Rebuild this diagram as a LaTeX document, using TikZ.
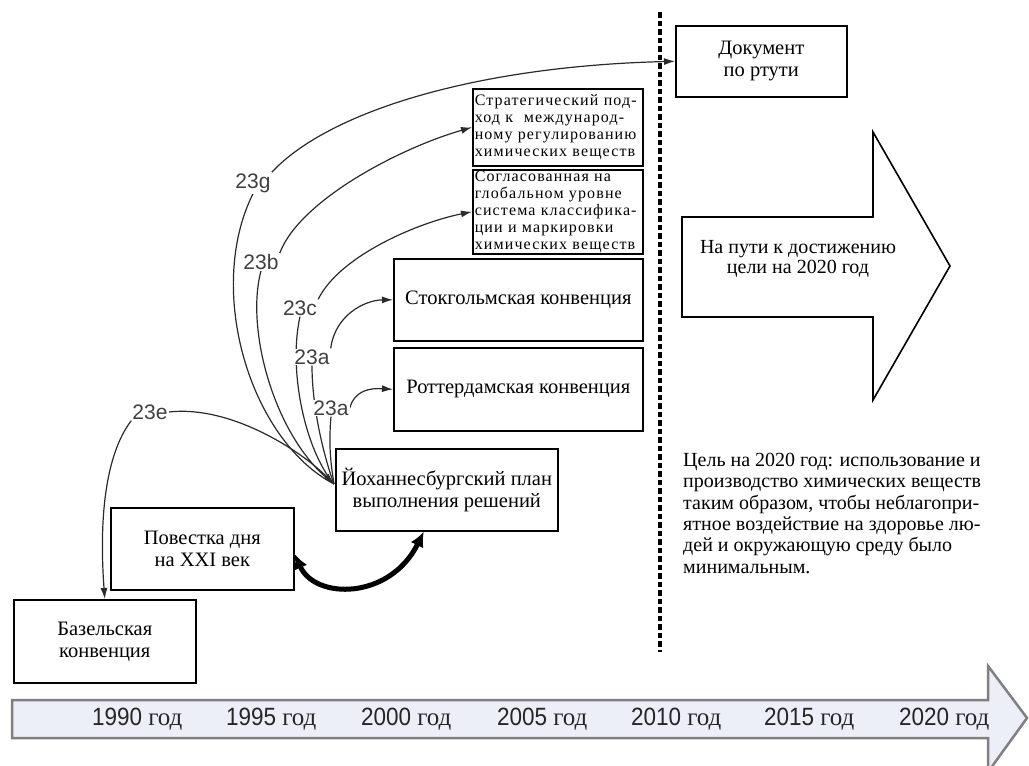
\documentclass[tikz,border=0pt]{standalone}
\usepackage{fontspec}
\setmainfont{Liberation Serif}
\newfontfamily\arialf{Liberation Sans}
\newfontfamily\spacedserif[LetterSpace=7]{Liberation Serif}
\usetikzlibrary{arrows.meta,calc,backgrounds}
\definecolor{tlfill}{HTML}{ECEFF8}
\definecolor{tledge}{HTML}{808080}
\definecolor{curve}{HTML}{2A2A2A}
\definecolor{labgray}{HTML}{404040}
\begin{document}
\begin{tikzpicture}[x=1pt,y=-1pt,
  box/.style={draw=black, line width=1.6pt, fill=white, inner sep=0pt, align=center,
    font=\fontsize{20.5}{22}\selectfont, anchor=north west},
  smallbox/.style={draw=black, line width=1.6pt, fill=white, inner xsep=2pt, inner ysep=0pt,
    align=left, text width=166pt, font=\spacedserif\fontsize{16}{17}\selectfont, anchor=north west},
  lab/.style={font=\arialf\fontsize{21}{21}\selectfont, text=labgray, inner sep=1pt, fill=white},
  conn/.style={draw=curve, line width=1.2pt},
  arr/.style={conn, -{Latex[length=11pt,width=7pt]}},
  year/.style={anchor=west, inner sep=0pt, text=black!85}
]
\useasboundingbox (0,0) rectangle (1029,766);

% timeline arrow
\path[fill=tlfill, draw=tledge, line width=2.5pt, line join=miter]
  (12,700) -- (988,700) -- (988,666) -- (1027,718) -- (988,772) -- (988,738) -- (12,738) -- cycle;
\foreach \x/\y in {92/1990,226/1995,361/2000,497/2005,631/2010,764/2015,899/2020}{
  \node[year] (y\y) at (\x,719) {\scalebox{0.9}[1]{\arialf\fontsize{25}{25}\selectfont \y}\hspace{6pt}{\fontsize{25}{25}\selectfont год}};
}

% dotted divider
\coordinate (dtop) at (660,12);
\coordinate (dbot) at (660,652);
\draw[line width=4pt, dash pattern=on 5.5pt off 3pt] (dtop) -- (dbot);

% boxes
\node[box, minimum width=171pt, minimum height=71pt] (doc) at (675,25) {Документ\\по ртути};
\node[smallbox, minimum height=77pt] (strat) at (472,88)
  {\mbox{Стратегический под-}\\\mbox{ход к\ \ международ-}\\\mbox{ному регулированию}\\\mbox{химических веществ}};
\node[smallbox, minimum height=84pt] (sogl) at (472,169)
  {\mbox{Согласованная на}\\\mbox{глобальном уровне}\\\mbox{система классифика-}\\\mbox{ции и маркировки}\\\mbox{химических веществ}};
\node[box, minimum width=249pt, minimum height=82pt] (stock) at (393,258) {Стокгольмская конвенция};
\node[box, minimum width=249pt, minimum height=83pt] (rott) at (393,347) {Роттердамская конвенция};
\node[box, minimum width=222pt, minimum height=82pt] (joh) at (335,448) {Йоханнесбургский план\\выполнения решений};
\node[box, minimum width=183pt, minimum height=82pt] (pov) at (110,507) {Повестка дня\\на XXI век};
\node[box, minimum width=182pt, minimum height=83pt] (baz) at (13,599) {Базельская\\конвенция};

% big arrow
\draw[line width=1.6pt, line join=miter, fill=white]
  (682,217) -- (873,217) -- (873,132) -- (950,266) -- (873,400) -- (873,317) -- (682,317) -- cycle;
\node[align=center, font=\fontsize{20}{20}\selectfont, inner sep=0pt] (goalarrow) at (798,259)
  {На пути к достижению\\цели на 2020 год};

% goal text
\node[anchor=north west, align=left, inner sep=0pt, font=\fontsize{20}{21.3}\selectfont] (goal) at (683,453)
  {Цель на 2020 год: использование и\\производство химических веществ\\таким образом, чтобы неблагопри-\\ятное воздействие на здоровье лю-\\дей и окружающую среду было\\минимальным.};

% labels
\node[lab] (l23g) at (253,183) {23g};
\node[lab] (l23b) at (261,262) {23b};
\node[lab] (l23c) at (300,308) {23c};
\node[lab] (l23a1) at (312,357) {23a};
\node[lab] (l23a2) at (331,408) {23a};
\node[lab] (l23e) at (150,412) {23e};
\coordinate (jin) at (334,484);

\begin{scope}[on background layer]
\draw[conn] (l23g.south) .. controls (205,290) and (250,440) .. (jin);
\draw[arr] (l23g.north east) .. controls (330,110) and (480,66) .. (doc.west);
\draw[conn] (l23b.south) .. controls (245,330) and (275,440) .. (jin);
\draw[arr] (l23b.north east) .. controls (300,200) and (400,148) .. (strat.west);
\draw[conn] (l23c.south) .. controls (288,370) and (305,450) .. (jin);
\draw[arr] (l23c.north east) .. controls (340,255) and (420,222) .. (sogl.west);
\draw[conn] (l23a1.south) .. controls (312,410) and (325,460) .. (jin);
\draw[arr] (l23a1.north east) .. controls (335,315) and (365,300) .. (stock.west);
\draw[conn] (l23a2.south) .. controls (328,450) and (332,470) .. (jin);
\draw[arr] (l23a2.east) .. controls (355,390) and (370,388) .. (rott.west);
\draw[arr] (l23e.east) .. controls (230,405) and (300,450) .. (jin);
\draw[arr] (l23e.south west) .. controls (105,455) and (99,520) .. (baz.north);
\end{scope}

% thick double arrow
\draw[line width=5pt, {Latex[length=15pt,width=14pt]}-{Latex[length=15pt,width=14pt]}]
  ($(pov.east)+(0,5)$) .. controls (315,600) and (390,600) .. ($(joh.south)+(-23,0)$);
\end{tikzpicture}
\end{document}
